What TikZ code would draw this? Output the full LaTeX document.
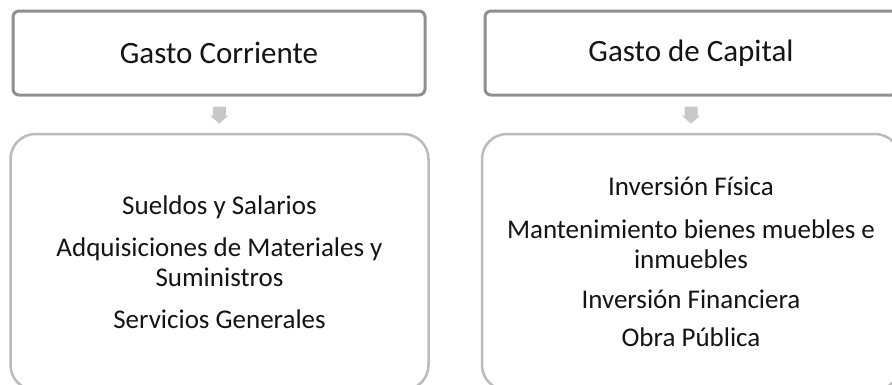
\documentclass[tikz,border=0pt]{standalone}
\usepackage{fontspec}
\setmainfont{Carlito}
\usetikzlibrary{calc}
\definecolor{bordeoscuro}{RGB}{143,143,143}
\definecolor{bordeclaro}{RGB}{187,187,187}
\definecolor{flechagris}{RGB}{200,200,200}
\definecolor{texto}{RGB}{20,20,20}
\tikzset{
	titulo/.style={draw=bordeoscuro, line width=3pt, rounded corners=6pt, fill=white,
		minimum width=412pt, minimum height=84pt, text=texto, font=\fontsize{31}{37}\selectfont},
	lista/.style={draw=bordeclaro, line width=2.5pt, rounded corners=25pt, fill=white,
		minimum width=418pt, minimum height=256pt, align=center, text=texto,
		font=\fontsize{27}{30}\selectfont}
}
\newcommand{\bajada}[1] % {coordenada} flecha gris hacia abajo
{
	\fill [flechagris] ($(#1)+(-6.5,-8)$) -- ($(#1)+(6.5,-8)$) -- ($(#1)+(6.5,1)$) -- ($(#1)+(9,1)$)
		-- ($(#1)+(0,9)$) -- ($(#1)+(-9,1)$) -- ($(#1)+(-6.5,1)$) -- cycle;
}

\begin{document}
\begin{tikzpicture}[x=1pt,y=-1pt]

	\clip (0,0) rectangle (892,384);

	% cajas de arriba
	\node [titulo] (corriente) at (219,53) {Gasto Corriente};
	\node [titulo] (capital) at (691,53) {Gasto de Capital};

	% cajas de abajo (cortadas por el borde)
	\node [lista] (partidasc) at (219.5,262) {Sueldos y Salarios\\[12pt]
		Adquisiciones de Materiales y\\Suministros\\[12pt]
		Servicios Generales};
	\node [lista] (partidask) at (691,262) {Inversión Física\\[13pt]
		Mantenimiento bienes muebles e\\inmuebles\\[10pt]
		Inversión Financiera\\[8pt]
		Obra Pública};

	% flechas
	\coordinate (fc) at ($(corriente.south)!0.5!(partidasc.north)$);
	\coordinate (fk) at ($(capital.south)!0.5!(partidask.north)$);
	\bajada{fc}
	\bajada{fk}

\end{tikzpicture}
\end{document}
